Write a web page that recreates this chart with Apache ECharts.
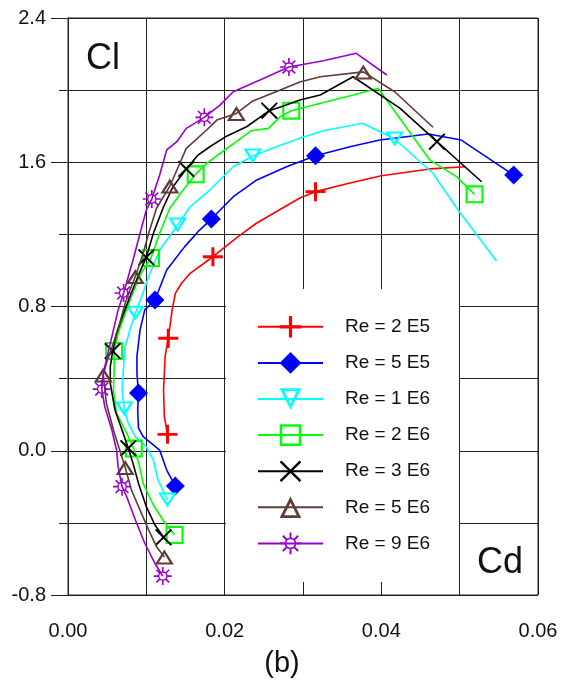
<!DOCTYPE html>
<html>
<head>
<meta charset="utf-8">
<script src="https://cdn.jsdelivr.net/npm/echarts@6/dist/echarts.min.js"></script>
<style>
html,body{margin:0;padding:0;background:#fff;}
#chart{width:563px;height:690px;}
</style>
</head>
<body>
<div id="chart"></div>
<script>
// ---- data (Cd, Cl) per Reynolds number; marker indices mark the symbol points ----
const seriesNames = ['Re = 2 E5','Re = 5 E5','Re = 1 E6','Re = 2 E6','Re = 3 E6','Re = 5 E6','Re = 9 E6'];

const cd2E5 = [0.0127,0.0123,0.0122,0.0124,0.0128,0.0133,0.0137,0.0145,0.0156,0.0185,0.0220,0.0241,0.0296,0.0316,0.0360,0.0400,0.0462,0.0507];
const cl2E5 = [0.091,0.189,0.337,0.522,0.624,0.781,0.873,0.929,0.984,1.076,1.197,1.263,1.402,1.437,1.485,1.525,1.563,1.575];
const mk2E5 = [0,4,9,13];

const cd5E5 = [0.0137,0.0126,0.0117,0.0096,0.0090,0.0089,0.0090,0.0088,0.0088,0.0092,0.0098,0.0111,0.0126,0.0149,0.0168,0.0183,0.0211,0.0241,0.0279,0.0316,0.0360,0.0398,0.0460,0.0502,0.0569];
const cl5E5 = [-0.196,-0.107,0.004,0.078,0.126,0.226,0.320,0.430,0.522,0.670,0.781,0.836,1.002,1.132,1.224,1.285,1.409,1.502,1.575,1.636,1.686,1.723,1.757,1.723,1.529];
const mk5E5 = [0,6,11,15,19,24];

const cd1E6 = [0.0127,0.0115,0.0109,0.0100,0.0086,0.0077,0.0072,0.0069,0.0071,0.0073,0.0079,0.0086,0.0094,0.0103,0.0117,0.0140,0.0156,0.0181,0.0211,0.0236,0.0266,0.0296,0.0326,0.0376,0.0417,0.0466,0.0498,0.0547];
const cl1E6 = [-0.273,-0.162,-0.051,0.022,0.078,0.152,0.232,0.337,0.466,0.577,0.670,0.762,0.854,0.965,1.113,1.252,1.353,1.446,1.575,1.635,1.686,1.733,1.775,1.816,1.729,1.539,1.335,1.052];
const mk1E6 = [0,6,11,15,19,24];

const cd2E6 = [0.0136,0.0124,0.0109,0.0096,0.0090,0.0084,0.0073,0.0062,0.0058,0.0059,0.0059,0.0064,0.0073,0.0081,0.0092,0.0106,0.0117,0.0130,0.0147,0.0163,0.0177,0.0200,0.0215,0.0234,0.0256,0.0271,0.0285,0.0364,0.0396,0.0428,0.0462,0.0496,0.0519];
const cl2E6 = [-0.467,-0.402,-0.301,-0.181,-0.062,0.012,0.115,0.208,0.337,0.448,0.553,0.651,0.762,0.854,0.975,1.069,1.206,1.345,1.446,1.533,1.594,1.668,1.714,1.775,1.788,1.853,1.886,1.973,2.010,1.816,1.612,1.520,1.422];
const mk2E6 = [0,5,10,15,19,26,32];

const cd3E6 = [0.0122,0.0111,0.0100,0.0090,0.0083,0.0077,0.0069,0.0060,0.0054,0.0054,0.0057,0.0062,0.0071,0.0079,0.0089,0.0100,0.0109,0.0122,0.0134,0.0151,0.0166,0.0181,0.0203,0.0228,0.0257,0.0275,0.0296,0.0322,0.0364,0.0424,0.0471,0.0528];
const cl3E6 = [-0.480,-0.412,-0.310,-0.181,-0.070,0.014,0.115,0.226,0.374,0.466,0.553,0.651,0.762,0.854,0.964,1.073,1.206,1.353,1.464,1.563,1.640,1.686,1.746,1.797,1.886,1.912,1.945,1.973,2.074,1.899,1.714,1.492];
const mk3E6 = [0,5,10,15,19,24,30];

const cd5E6 = [0.0123,0.0113,0.0103,0.0092,0.0081,0.0073,0.0066,0.0058,0.0049,0.0045,0.0049,0.0058,0.0066,0.0073,0.0079,0.0086,0.0096,0.0103,0.0113,0.0130,0.0139,0.0151,0.0177,0.0190,0.0215,0.0236,0.0271,0.0296,0.0322,0.0377,0.0417,0.0466];
const cl5E6 = [-0.589,-0.532,-0.440,-0.329,-0.218,-0.093,0.004,0.115,0.263,0.420,0.485,0.596,0.707,0.818,0.891,0.966,1.095,1.206,1.345,1.468,1.557,1.677,1.779,1.834,1.871,1.940,2.001,2.045,2.074,2.101,1.991,1.794];
const mk5E6 = [0,5,9,15,19,24,29];

const cd9E6 = [0.0121,0.0111,0.0098,0.0086,0.0075,0.0069,0.0064,0.0062,0.0056,0.0047,0.0043,0.0045,0.0051,0.0058,0.0064,0.0071,0.0083,0.0092,0.0100,0.0107,0.0117,0.0126,0.0139,0.0151,0.0174,0.0194,0.0211,0.0245,0.0282,0.0326,0.0368,0.0407];
const cl9E6 = [-0.695,-0.624,-0.513,-0.384,-0.255,-0.199,-0.088,0.004,0.115,0.244,0.342,0.430,0.540,0.670,0.781,0.875,1.058,1.206,1.335,1.396,1.529,1.668,1.714,1.788,1.849,1.917,1.991,2.056,2.128,2.163,2.204,2.084];
const mk9E6 = [0,5,10,15,19,24,28];

const xTickLabels = ['0.00','0.02','0.04','0.06'];
const yTickLabels = ['-0.8','0.0','0.8','1.6','2.4'];

// ---- marker shapes ----
const plusPath = 'path://M8.5,0H11.5V8.5H20V11.5H11.5V20H8.5V11.5H0V8.5H8.5Z';
const crossPath = 'path://M1.6,0L10,8.4L18.4,0L20,1.6L11.6,10L20,18.4L18.4,20L10,11.6L1.6,20L0,18.4L8.4,10L0,1.6Z';
const squarePath = 'path://M0,0H20V20H0Z M2.3,2.3V17.7H17.7V2.3Z';
const triDownPath = 'path://M0,0H20L10,20Z M4.2,2.6L10,14.2L15.8,2.6Z';
const triUpPath = 'path://M10,0L20,20H0Z M10,5.8L4.2,17.4H15.8Z';
function sunPath(){
  const c = 10, ro = 5.4, ri = 3.8, r1 = 4.8, r2 = 10, w = 0.9;
  let p = 'path://M' + (c+ro) + ',' + c + 'A' + ro + ',' + ro + ',0,1,1,' + (c-ro) + ',' + c +
          'A' + ro + ',' + ro + ',0,1,1,' + (c+ro) + ',' + c + 'Z';
  p += 'M' + (c+ri) + ',' + c + 'A' + ri + ',' + ri + ',0,1,0,' + (c-ri) + ',' + c +
       'A' + ri + ',' + ri + ',0,1,0,' + (c+ri) + ',' + c + 'Z';
  for (let k = 0; k < 8; k++) {
    const t = k * Math.PI / 4, ux = Math.cos(t), uy = Math.sin(t), vx = -uy, vy = ux;
    const pts = [
      [c + ux*r1 - vx*w, c + uy*r1 - vy*w],
      [c + ux*r2 - vx*w, c + uy*r2 - vy*w],
      [c + ux*r2 + vx*w, c + uy*r2 + vy*w],
      [c + ux*r1 + vx*w, c + uy*r1 + vy*w]
    ];
    p += 'M' + pts.map(q => q[0].toFixed(3) + ',' + q[1].toFixed(3)).join('L') + 'Z';
  }
  return p;
}

function build(cd, cl, marks) {
  return cd.map((x, i) => marks.indexOf(i) >= 0 ? { value: [x, cl[i]] } : { value: [x, cl[i]], symbol: 'none' });
}

const defs = [
  { cd: cd2E5, cl: cl2E5, mk: mk2E5, color: '#ff0000', symbol: plusPath, size: [20, 19] },
  { cd: cd5E5, cl: cl5E5, mk: mk5E5, color: '#0000ff', symbol: 'diamond', size: [19, 19] },
  { cd: cd1E6, cl: cl1E6, mk: mk1E6, color: '#00ffff', symbol: triDownPath, size: [19, 15] },
  { cd: cd2E6, cl: cl2E6, mk: mk2E6, color: '#00ff00', symbol: squarePath, size: [18, 18] },
  { cd: cd3E6, cl: cl3E6, mk: mk3E6, color: '#000000', symbol: crossPath, size: [17, 17] },
  { cd: cd5E6, cl: cl5E6, mk: mk5E6, color: '#603c36', symbol: triUpPath, size: [19, 15] },
  { cd: cd9E6, cl: cl9E6, mk: mk9E6, color: '#9900cc', symbol: sunPath(), size: [18, 18] }
];

const FONT = 'Liberation Sans, Arial, sans-serif';
const chart = echarts.init(document.getElementById('chart'), null, { renderer: 'canvas' });

const option = {
  animation: false,
  backgroundColor: '#fff',
  grid: [
    { left: 68, top: 18, width: 470, height: 577, show: true, borderColor: '#222', borderWidth: 1, backgroundColor: 'transparent' },
    { left: 68, top: 18, width: 470, height: 577 }
  ],
  xAxis: [
    { type: 'value', gridIndex: 0, min: 0, max: 0.06, interval: 0.01,
      axisLine: { show: true, lineStyle: { color: '#222', width: 1 } },
      axisTick: { show: true, length: 10, lineStyle: { color: '#222', width: 1 } },
      axisLabel: { show: false },
      splitLine: { show: true, lineStyle: { color: '#222', width: 1 } } },
    { type: 'value', gridIndex: 1, min: 0, max: 0.06, interval: 0.02,
      axisLine: { show: true, lineStyle: { color: '#222', width: 1 } },
      axisTick: { show: true, length: 19, lineStyle: { color: '#222', width: 1 } },
      axisLabel: { show: true, margin: 26, fontSize: 20, fontFamily: FONT, color: '#111',
        showMinLabel: true, showMaxLabel: true,
        formatter: v => xTickLabels[Math.round(v / 0.02)] || '' },
      splitLine: { show: false } }
  ],
  yAxis: [
    { type: 'value', gridIndex: 0, min: -0.8, max: 2.4, interval: 0.4,
      axisLine: { show: true, lineStyle: { color: '#222', width: 1 } },
      axisTick: { show: true, length: 9, lineStyle: { color: '#222', width: 1 } },
      axisLabel: { show: false },
      splitLine: { show: true, lineStyle: { color: '#222', width: 1 } } },
    { type: 'value', gridIndex: 1, min: -0.8, max: 2.4, interval: 0.8,
      axisLine: { show: true, lineStyle: { color: '#222', width: 1 } },
      axisTick: { show: true, length: 17, lineStyle: { color: '#222', width: 1 } },
      axisLabel: { show: true, margin: 22, fontSize: 20, fontFamily: FONT, color: '#111',
        showMinLabel: true, showMaxLabel: true,
        formatter: v => yTickLabels[Math.round((v + 0.8) / 0.8)] || '' },
      splitLine: { show: false } }
  ],
  legend: {
    orient: 'vertical', left: 257, top: 316, padding: 0,
    itemWidth: 65, itemHeight: 27, itemGap: 14.5,
    data: seriesNames,
    textStyle: { fontSize: 19, fontFamily: FONT, color: '#111', padding: [0, 0, 0, 17] },
    z: 10
  },
  graphic: [
    { type: 'rect', z: 5, shape: { x: 226, y: 289, width: 233, height: 293 }, style: { fill: '#fff' } },
    { type: 'text', z: 6, style: { text: 'Cl', x: 86, y: 59, font: '36px ' + FONT, fill: '#111', textAlign: 'left', textVerticalAlign: 'middle' } },
    { type: 'text', z: 6, style: { text: 'Cd', x: 477, y: 563, font: '36px ' + FONT, fill: '#111', textAlign: 'left', textVerticalAlign: 'middle' } },
    { type: 'text', z: 6, style: { text: '(b)', x: 282, y: 664, font: '29px ' + FONT, fill: '#111', textAlign: 'center', textVerticalAlign: 'middle' } }
  ],
  series: defs.map((d, i) => ({
    type: 'line', name: seriesNames[i], xAxisIndex: 0, yAxisIndex: 0,
    data: build(d.cd, d.cl, d.mk),
    symbol: d.symbol, symbolSize: d.size, showSymbol: true, showAllSymbol: true,
    color: d.color,
    lineStyle: { color: d.color, width: 1.6 },
    itemStyle: { color: d.color, borderWidth: 0 },
    clip: false, z: 2 + i * 0.01
  }))
};
chart.setOption(option);
</script>
</body>
</html>
